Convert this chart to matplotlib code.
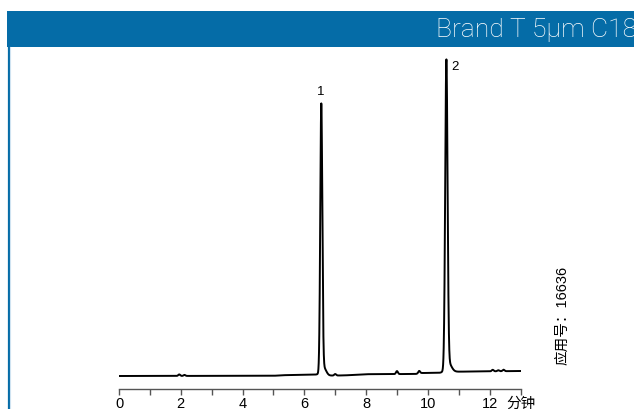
import numpy as np
import matplotlib
matplotlib.use('Agg')
import matplotlib.pyplot as plt
from matplotlib.patches import Rectangle
from matplotlib.lines import Line2D

plt.rcParams['font.family'] = ['Liberation Sans', 'Noto Sans CJK SC', 'DejaVu Sans']

# Data (time in min, signal in arbitrary units)
peak_times = [6.55, 10.60]
peak_heights = [266, 306]
peak_sigmas = [0.033, 0.038]
peak_labels = ['1', '2']

bump_times = [1.95, 2.12, 7.0, 9.0, 9.72, 12.1, 12.28, 12.45]
bump_heights = [1.5, 1.0, 1.5, 3.0, 2.5, 1.5, 1.0, 1.5]

base_times = [0, 5.0, 5.3, 6.4, 6.8, 7.3, 8.0, 9.6, 9.8, 10.4, 10.9, 13.0]
base_levels = [0, 0.2, 0.8, 1.4, 0.4, 0.6, 1.8, 2.0, 3.0, 3.2, 4.3, 5.0]

tick_pos = list(range(14))
tick_text = ['0', '', '2', '', '4', '', '6', '', '8', '', '10', '', '12', '分钟']

title = 'Brand T 5µm C18'
app_no = '应用号：16636'

blue = '#056ca7'

# build trace
t = np.linspace(0, 13, 4000)
y = np.interp(t, base_times, base_levels)
for tp, h, s in zip(peak_times, peak_heights, peak_sigmas):
    y += h * np.exp(-0.5 * ((t - tp) / s) ** 2)
    # small tail after each peak
    y += 0.03 * h * np.exp(-0.5 * ((t - tp - 0.07) / (2.5 * s)) ** 2)
for tb, hb in zip(bump_times, bump_heights):
    y += hb * np.exp(-0.5 * ((t - tb) / 0.03) ** 2)

fig = plt.figure(figsize=(6.34, 4.09), dpi=100)

# banner + left rule
fig.add_artist(Rectangle((7 / 634, 1 - 47 / 409), 1, 36 / 409, transform=fig.transFigure,
                         facecolor=blue, edgecolor='none'))
fig.add_artist(Line2D([8.5 / 634, 8.5 / 634], [0, 1 - 47 / 409], transform=fig.transFigure,
                      color=blue, lw=1.6))
fig.add_artist(Line2D([10.3 / 634, 10.3 / 634], [0, 1 - 47 / 409], transform=fig.transFigure,
                      color='#cfe3f1', lw=0.8))
fig.text(637 / 634, 1 - 30 / 409, title, color='white', fontsize=19,
         ha='right', va='center', family=['Roboto', 'DejaVu Sans'], fontweight='light')

ax = fig.add_axes([119 / 634, 20 / 409, 401.5 / 634, 342 / 409])
ax.plot(t, y, color='black', lw=1.4)
ax.set_xlim(0, 13)
ax.set_ylim(-13, 329)

for tp, h, lab in zip(peak_times, peak_heights, peak_labels):
    if lab == '1':
        ax.text(tp - 0.02, h + 12, lab, ha='center', va='bottom', fontsize=9.5)
    else:
        ax.text(tp + 0.27, h + 3, lab, ha='center', va='center', fontsize=9.5)

for s in ['left', 'top', 'right']:
    ax.spines[s].set_visible(False)
ax.spines['bottom'].set_color('#555555')
ax.spines['bottom'].set_linewidth(1.0)
ax.set_yticks([])
ax.set_xticks(tick_pos)
ax.set_xticklabels(tick_text)
ax.tick_params(axis='x', length=4, width=1.0, color='#555555', labelsize=10.5, pad=1.5)

fig.text(562 / 634, 1 - 315 / 409, app_no, rotation=90, ha='center', va='center', fontsize=10.5)

fig.savefig('out.png', dpi=100)
